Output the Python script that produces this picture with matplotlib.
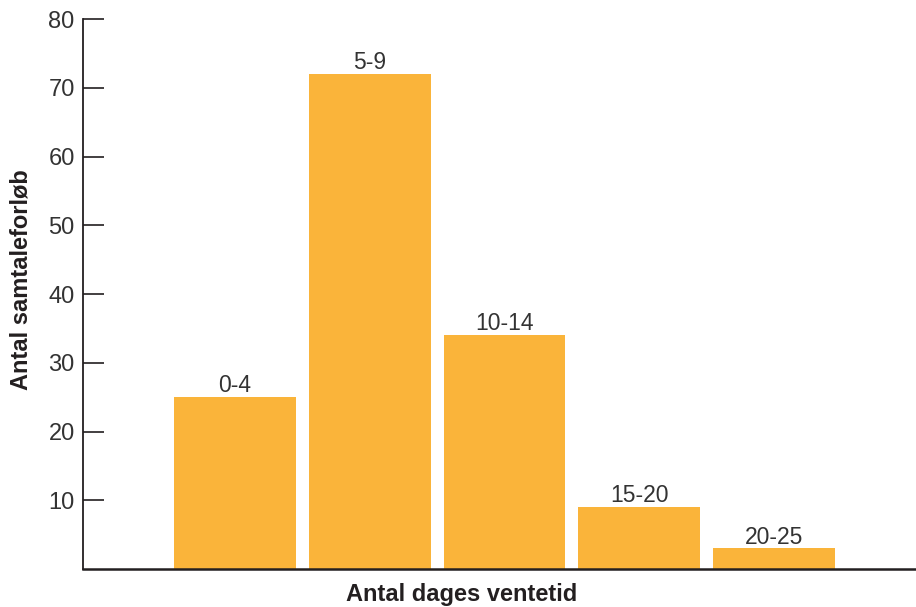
import matplotlib
matplotlib.use("Agg")
import matplotlib.pyplot as plt

# Data
categories = ["0-4", "5-9", "10-14", "15-20", "20-25"]
counts = [25, 72, 34, 9, 3]
yticks = [10, 20, 30, 40, 50, 60, 70, 80]

bar_color = "#FAB43A"
ink = "#231F20"
text_color = "#333333"

plt.rcParams["font.family"] = ["Liberation Sans", "DejaVu Sans"]

fig = plt.figure(figsize=(9.16, 6.07), dpi=100)
ax = fig.add_axes([0.0906, 0.0626, 0.9094, 0.906])

positions = list(range(len(categories)))
bars = ax.bar(positions, counts, width=0.905, color=bar_color, zorder=2)

# Category labels above each bar
for pos, val, cat in zip(positions, counts, categories):
    ax.annotate(cat, (pos, val), xytext=(0, 3.5), textcoords="offset points",
                ha="center", va="baseline", fontsize=16.5, color=text_color)

ax.set_xlim(-1.128, 5.054)
ax.set_ylim(0, 80)
ax.set_yticks(yticks)
ax.set_yticklabels([str(t) for t in yticks])
ax.set_xticks([])

ax.tick_params(axis="y", direction="in", length=15, width=1.2, color=ink,
               labelsize=17, labelcolor=text_color, pad=6)

for side in ["top", "right"]:
    ax.spines[side].set_visible(False)
ax.spines["left"].set_color(ink)
ax.spines["left"].set_linewidth(1.3)
ax.spines["bottom"].set_color(ink)
ax.spines["bottom"].set_linewidth(1.8)

fig.text(0.023, 0.54, "Antal samtaleforløb", rotation=90, ha="center", va="center",
         fontsize=17, fontweight="bold", color=ink)
fig.text(0.504, 0.001, "Antal dages ventetid", ha="center", va="bottom",
         fontsize=17, fontweight="bold", color=ink)

fig.savefig("out.png", dpi=100)
